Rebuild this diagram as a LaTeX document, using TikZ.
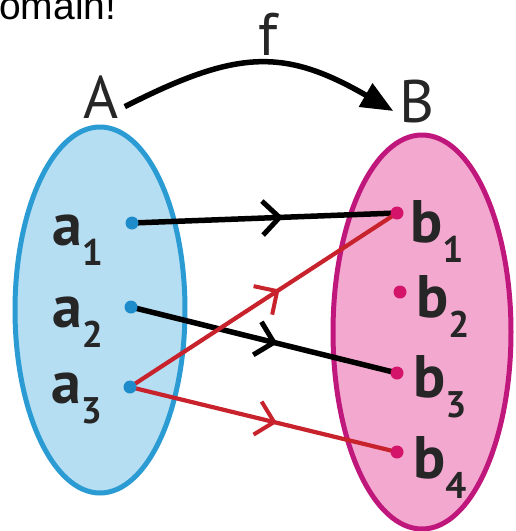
\documentclass[tikz,border=0pt]{standalone}
\usepackage{fontspec}
\setmainfont{PT Sans}
\newfontfamily\topfont{Liberation Sans}
\usetikzlibrary{arrows.meta,decorations.markings}
\definecolor{setAfill}{HTML}{B6DEF3}
\definecolor{setAline}{HTML}{2A9BD3}
\definecolor{setBfill}{HTML}{F3A8CF}
\definecolor{setBline}{HTML}{C0177C}
\definecolor{dotA}{HTML}{1E8CCB}
\definecolor{dotB}{HTML}{D3146A}
\definecolor{redline}{HTML}{C8232C}
\definecolor{ink}{HTML}{262626}
\newcommand{\elemlab}[2]{{\fontsize{60}{60}\selectfont\bfseries #1}\kern0pt\lower20pt\hbox{\fontsize{37}{37}\selectfont\bfseries #2}}
\begin{document}
\begin{tikzpicture}[x=1pt,y=-1pt,
  lab/.style={inner sep=0pt,text=ink,font=\fontsize{60}{60}\selectfont},
  elem/.style={inner sep=0pt,anchor=base west,text=ink},
  blackmap/.style={line width=5.5pt,draw=black,
    postaction={decorate,decoration={markings,mark=at position #1 with {\arrow[line width=5pt]{Straight Barb[length=17pt,width=34pt]}}}}},
  redmap/.style={line width=4.2pt,draw=redline,
    postaction={decorate,decoration={markings,mark=at position #1 with {\arrow[line width=4pt]{Straight Barb[length=17pt,width=34pt]}}}}},
  dotAst/.style={fill=dotA},
  dotBst/.style={fill=dotB}]
\useasboundingbox (0,0) rectangle (515,531);
\fill[white] (0,0) rectangle (515,531);
% top text (cropped)
\node[inner sep=0pt,anchor=base west,font=\topfont\fontsize{39}{39}\selectfont] (top) at (-1,19) {omain!};
% sets
\draw[line width=5pt,draw=setAline,fill=setAfill] (100,310) ellipse [x radius=85pt,y radius=183pt];
\draw[line width=5pt,draw=setBline,fill=setBfill] (422,332) ellipse [x radius=89pt,y radius=197pt];
% set labels
\node[lab,anchor=base] (A) at (101,118) {A};
\node[lab,anchor=base] (B) at (417,122) {B};
\node[lab,anchor=base] (f) at (268,55) {f};
\draw[line width=5.5pt,-{Triangle[length=32pt,width=26pt]}] ([xshift=6pt,yshift=-10pt]A.east) to[out=27,in=150,looseness=1.2] ([xshift=-6pt,yshift=-10pt]B.west);
% element labels
\node[elem] (la1) at (52,245) {\elemlab{a}{1}};
\node[elem] (la2) at (52,327) {\elemlab{a}{2}};
\node[elem] (la3) at (51,403) {\elemlab{a}{3}};
\node[elem] (lb1) at (410,242) {\elemlab{b}{1}};
\node[elem] (lb2) at (416,317) {\elemlab{b}{2}};
\node[elem] (lb3) at (413,397) {\elemlab{b}{3}};
\node[elem] (lb4) at (413,478) {\elemlab{b}{4}};
% element points
\coordinate (a1) at (132,223);
\coordinate (a2) at (131,307);
\coordinate (a3) at (130,387);
\coordinate (b1) at (397,213);
\coordinate (b2) at (400,292);
\coordinate (b3) at (397,373);
\coordinate (b4) at (397,452);
% mapping
\draw[blackmap=0.57] (a1) -- (b1);
\draw[blackmap=0.55] (a2) -- (b3);
\draw[redmap=0.56] (a3) -- (b1);
\draw[redmap=0.55] (a3) -- (b4);
% dots
\foreach \p in {a1,a2,a3} \fill[dotAst] (\p) circle[radius=6.5pt];
\foreach \p in {b1,b2,b3,b4} \fill[dotBst] (\p) circle[radius=6.5pt];
\end{tikzpicture}
\end{document}
